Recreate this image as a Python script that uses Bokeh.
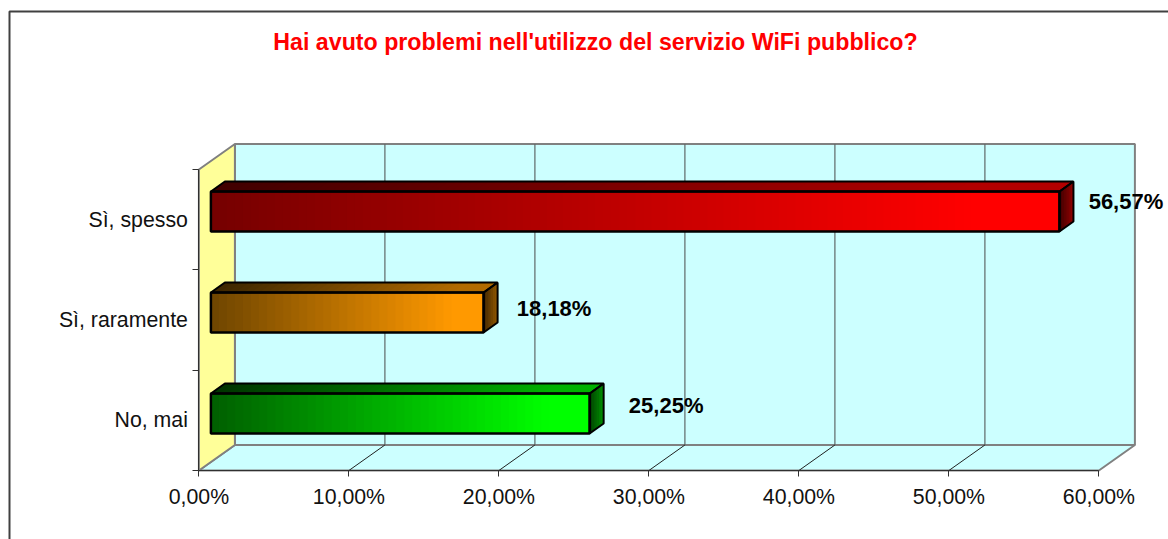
from bokeh.plotting import figure
from bokeh.models import FixedTicker, Range1d, LinearAxis
from bokeh.core.properties import value
from bokeh.embed import file_html
from bokeh.resources import INLINE

# ---- data -------------------------------------------------------------
title = "Hai avuto problemi nell'utilizzo del servizio WiFi pubblico?"
categories = ["No, mai", "Sì, raramente", "Sì, spesso"]
values = [25.25, 18.18, 56.57]
value_labels = ["25,25%", "18,18%", "56,57%"]
x_ticks = [0, 10, 20, 30, 40, 50, 60]
x_tick_labels = ["0,00%", "10,00%", "20,00%", "30,00%", "40,00%", "50,00%", "60,00%"]

# ---- colours (left/right ends of each gradient) --------------------------
front_dark = [(0, 96, 0), (112, 70, 0), (118, 0, 0)]
front_bright = [(0, 255, 0), (255, 153, 0), (255, 0, 0)]

# ---- layout ----------------------------------------------------------
W, H = 1168, 539
OX, OY = 0, 0              # page offset of the figure
X0_PX, PX_PER_PCT = 198.4, 15.0
Y0_PX, PX_PER_CAT = 470, 100.33
FONT = "Liberation Sans"


def dx(px):
    return px / PX_PER_PCT


def dy(px):
    return px / PX_PER_CAT


def page_x(px):
    return (px - X0_PX) / PX_PER_PCT


def page_y(py):
    return (Y0_PX - py) / PX_PER_CAT


p = figure(width=W, height=H, output_backend="svg", toolbar_location=None,
           x_range=Range1d(page_x(OX), page_x(OX + W)),
           y_range=Range1d(page_y(OY + H), page_y(OY)),
           min_border=0, x_axis_type=None, y_axis_type=None)
p.outline_line_color = None
p.background_fill_color = "white"
p.border_fill_color = "white"
p.grid.visible = False

DX, DY = dx(36), dy(25.5)      # wall depth
N_CAT = len(categories)
XMAX = x_ticks[-1]
GRAY = "#808080"

# back wall, floor and left wall
p.patch([DX, XMAX + DX, XMAX + DX, DX], [DY, DY, N_CAT + DY, N_CAT + DY],
        fill_color="#CCFFFF", line_color=GRAY, line_width=2)
p.patch([0, XMAX, XMAX + DX, DX], [0, 0, DY, DY],
        fill_color="#CCFFFF", line_color=GRAY, line_width=2)
p.patch([0, DX, DX, 0], [0, DY, N_CAT + DY, N_CAT],
        fill_color="#FFFF99", line_color=GRAY, line_width=2)

# gridlines on wall and floor
inner = x_ticks[1:-1]
p.segment([t + DX for t in inner], [DY] * len(inner),
          [t + DX for t in inner], [N_CAT + DY] * len(inner),
          line_color="#5f6868", line_width=1.2)
p.segment(inner, [0] * len(inner), [t + DX for t in inner], [DY] * len(inner),
          line_color="#202020", line_width=1)


def mix(a, b, t):
    return "#%02x%02x%02x" % tuple(round(a[k] + (b[k] - a[k]) * t) for k in range(3))


def scale(c, f):
    return tuple(min(255, v * f) for v in c)


BAR_X = dx(12)
BAR_BASE, BAR_PITCH = dy(57), dy(101)
HALF = dy(20)
DEPTH_X, DEPTH_Y = dx(14), dy(10)
STRIP = 8   # px

for i, (val, dark, bright) in enumerate(zip(values, front_dark, front_bright)):
    l = BAR_X
    r = val + BAR_X
    b = BAR_BASE + i * BAR_PITCH - HALF
    t = BAR_BASE + i * BAR_PITCH + HALF
    n = max(8, int(val * PX_PER_PCT / STRIP))
    w = (r - l) / n
    # gradient of the front and top faces, as overlapping strips
    for k in range(n):
        f = min(1.0, (k / (n - 1)) / 0.9)
        x1 = l + k * w
        x2 = r if k == n - 1 else x1 + w * 1.6
        x2 = min(x2, r)
        col = mix(dark, bright, f)
        p.quad(left=x1, right=x2, bottom=b, top=t, fill_color=col, line_color=None)
        p.patch([x1, x2, x2 + DEPTH_X, x1 + DEPTH_X],
                [t, t, t + DEPTH_Y, t + DEPTH_Y],
                fill_color=mix(scale(dark, .55), scale(bright, .7), f), line_color=None)
    # side face
    m = 6
    sw = DEPTH_X / m
    for k in range(m):
        x1 = r + k * sw
        x2 = min(r + DEPTH_X, x1 + sw * 1.4)
        s1 = k * sw / DEPTH_X * DEPTH_Y
        s2 = (x2 - r) / DEPTH_X * DEPTH_Y
        p.patch([x1, x2, x2, x1], [b + s1, b + s2, t + s2, t + s1],
                fill_color=mix(scale(bright, .28), scale(bright, .55), k / (m - 1)),
                line_color=None)
    # outlines
    p.patch([l, r, r, l], [b, b, t, t], fill_color=None, line_color="black", line_width=2.5)
    p.patch([l, r, r + DEPTH_X, l + DEPTH_X], [t, t, t + DEPTH_Y, t + DEPTH_Y],
            fill_color=None, line_color="black", line_width=2)
    p.patch([r, r + DEPTH_X, r + DEPTH_X, r], [b, b + DEPTH_Y, t + DEPTH_Y, t],
            fill_color=None, line_color="black", line_width=2)

# axes placed inside the full-figure frame
xa = LinearAxis(fixed_location=0, ticker=FixedTicker(ticks=x_ticks),
                major_label_overrides=dict(zip(x_ticks, x_tick_labels)),
                bounds=(0, XMAX))
xa.axis_line_color = "#303030"
xa.axis_line_width = 1
xa.major_tick_line_color = "#303030"
xa.major_tick_out = 6
xa.major_tick_in = 0
xa.minor_tick_line_color = None
xa.major_label_standoff = 8
xa.major_label_text_font = FONT
xa.major_label_text_font_size = "21.3px"
xa.major_label_text_color = "#111111"
p.add_layout(xa, "below")

cat_pos = [k + 0.5 for k in range(N_CAT)]
ya = LinearAxis(fixed_location=0,
                ticker=FixedTicker(ticks=cat_pos, minor_ticks=list(range(N_CAT + 1))),
                major_label_overrides=dict(zip(cat_pos, categories)),
                bounds=(0, N_CAT))
ya.axis_line_color = "#303030"
ya.axis_line_width = 1
ya.major_tick_line_color = None
ya.major_tick_out = 0
ya.major_tick_in = 0
ya.minor_tick_line_color = "#303030"
ya.minor_tick_out = 6
ya.minor_tick_in = 0
ya.major_label_standoff = 5
ya.major_label_text_font = FONT
ya.major_label_text_font_size = "21.3px"
ya.major_label_text_color = "#111111"
p.add_layout(ya, "left")

# value labels (centre offsets, in pixels)
label_dx = [88.5, 82.5, 78.5]
label_dy = [15, 12, 18]
p.text(x=[v + dx(o) for v, o in zip(values, label_dx)],
       y=[k + 0.5 + dy(o) for k, o in enumerate(label_dy)],
       text=value_labels, text_align="center", text_baseline="middle",
       text_font=value(FONT), text_font_style="bold", text_font_size="22px", text_color="#000000")

# title
p.text(x=[page_x(595)], y=[page_y(41)], text=[title], text_align="center", text_baseline="middle",
       text_font=value(FONT), text_font_style="bold", text_font_size="23.2px", text_color="#FF0000")

# chart border (left and top only; the rest runs off the page)
p.line([page_x(9), page_x(9), page_x(OX + W)], [page_y(OY + H), page_y(11), page_y(11)],
       line_color="#404040", line_width=2)

open("out.html", "w").write(file_html(p, INLINE))
